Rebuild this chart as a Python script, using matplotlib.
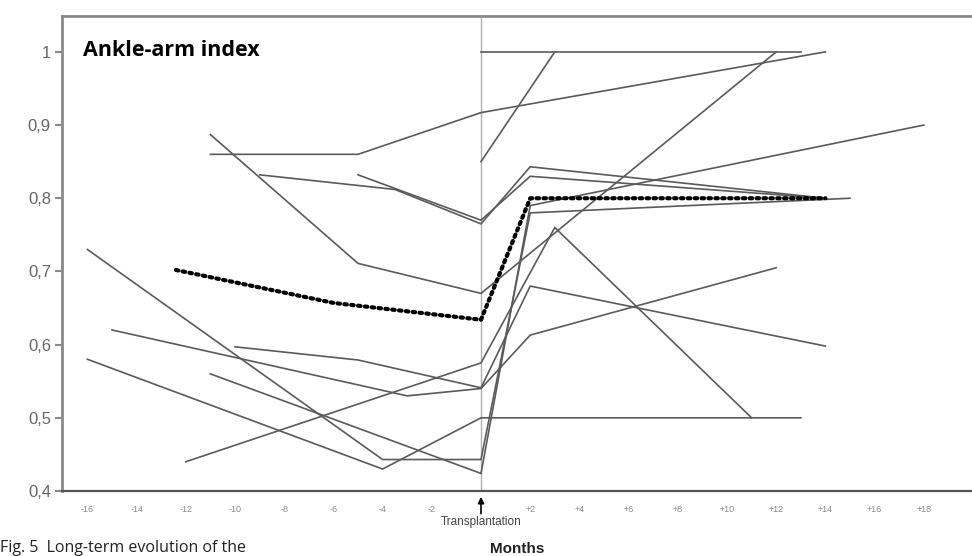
import matplotlib
matplotlib.use("Agg")
import matplotlib.pyplot as plt

# ---- data (months relative to transplantation, ankle-arm index) ----
p1_x = [-16, -4, 0, 2, 15];        p1_y = [0.73, 0.443, 0.443, 0.78, 0.80]
p2_x = [-16, -4, 0, 13];           p2_y = [0.58, 0.43, 0.50, 0.50]
p3_x = [-15, -3, 0, 2, 12];        p3_y = [0.62, 0.53, 0.54, 0.613, 0.705]
p4_x = [-12, 0, 3, 11];            p4_y = [0.44, 0.575, 0.76, 0.50]
p5_x = [-11, 0, 2, 18];            p5_y = [0.56, 0.424, 0.79, 0.90]
p6_x = [-11, -5, 0, 12];           p6_y = [0.887, 0.711, 0.67, 1.0]
p7_x = [-11, -5, 0, 14];           p7_y = [0.86, 0.86, 0.917, 1.0]
p8_x = [-9, -3.5, 0, 2, 14];       p8_y = [0.832, 0.812, 0.765, 0.843, 0.80]
p9_x = [-5, 0, 2, 14];             p9_y = [0.832, 0.77, 0.83, 0.80]
p10_x = [-10, -5, 0, 2, 14];       p10_y = [0.597, 0.579, 0.541, 0.68, 0.598]
p11_x = [0, 3];                    p11_y = [0.85, 1.0]
p12_x = [0, 13];                   p12_y = [1.0, 1.0]
mean_x = [-12.4, -6, 0, 2, 14];    mean_y = [0.702, 0.657, 0.634, 0.80, 0.80]

patients = [(p1_x, p1_y), (p2_x, p2_y), (p3_x, p3_y), (p4_x, p4_y),
            (p5_x, p5_y), (p6_x, p6_y), (p7_x, p7_y), (p8_x, p8_y),
            (p9_x, p9_y), (p10_x, p10_y), (p11_x, p11_y), (p12_x, p12_y)]

xtick_pos = [-16, -14, -12, -10, -8, -6, -4, -2, 2, 4, 6, 8, 10, 12, 14, 16, 18]
xtick_lab = ["-16", "-14", "-12", "-10", "-8", "-6", "-4", "-2",
             "+2", "+4", "+6", "+8", "+10", "+12", "+14", "+16", "+18"]
ytick_pos = [0.4, 0.5, 0.6, 0.7, 0.8, 0.9, 1.0]
ytick_lab = ["0,4", "0,5", "0,6", "0,7", "0,8", "0,9", "1"]

W, H = 972, 556
fig = plt.figure(figsize=(W / 100, H / 100), dpi=100)
fig.patch.set_facecolor("white")

ax_l, ax_r, ax_t, ax_b = 62, 972, 16, 491
ax = fig.add_axes([ax_l / W, (H - ax_b) / H, (ax_r - ax_l) / W, (ax_b - ax_t) / H])

px_per_month = 24.6
x0px = 481
ax.set_xlim((ax_l - x0px) / px_per_month, (ax_r - x0px) / px_per_month)
ax.set_ylim(0.4, 1.049)

# vertical transplantation line
ax.axvline(0, color="#b0b0b0", lw=1.0, zorder=1)

for xs, ys in patients:
    ax.plot(xs, ys, color="#5a5a5a", lw=1.2, zorder=2, solid_joinstyle="miter")

ax.plot(mean_x, mean_y, color="black", lw=3.0, linestyle=(0, (0.6, 1.05)),
        dash_capstyle="round", zorder=3)

# spines
ax.spines["right"].set_visible(False)
ax.spines["left"].set_color("#8a8a8a")
ax.spines["left"].set_linewidth(2.0)
ax.spines["top"].set_color("#8a8a8a")
ax.spines["top"].set_linewidth(2.0)
ax.spines["bottom"].set_color("#555555")
ax.spines["bottom"].set_linewidth(1.6)

ax.set_yticks(ytick_pos)
ax.set_yticklabels(ytick_lab, fontsize=12, color="#666666", family="Liberation Sans")
ax.tick_params(axis="y", length=5, width=1.5, color="#8a8a8a", pad=3)

ax.set_xticks(xtick_pos)
ax.set_xticklabels(xtick_lab, fontsize=6.5, color="#8a8a8a", family="Liberation Sans")
ax.tick_params(axis="x", length=0, pad=10)

# title inside plot
ax.text(0.0235, 0.928, "Ankle-arm index", transform=ax.transAxes,
        fontsize=15.5, fontweight="bold", family="Open Sans", color="black",
        ha="left", va="center")

# arrow under transplantation point
ax.annotate("", xy=(0, 0.392), xytext=(0, 0.369),
            arrowprops=dict(arrowstyle="-|>", color="black", lw=1.2,
                            mutation_scale=9, shrinkA=0, shrinkB=0),
            annotation_clip=False)
ax.text(0, 0.358, "Transplantation", fontsize=8.5, color="#444444",
        family="Liberation Sans", ha="center", va="center", clip_on=False)

# axis label and caption
fig.text(517 / W, 1 - 549 / H, "Months", fontsize=11, fontweight="bold",
         color="#222222", family="Liberation Sans", ha="center", va="center")
fig.text(0.0, 0.5 / H, "Fig. 5  Long-term evolution of the", fontsize=11.5,
         color="#222222", family="Open Sans", ha="left", va="bottom")

fig.savefig("out.png", dpi=100, facecolor="white")
